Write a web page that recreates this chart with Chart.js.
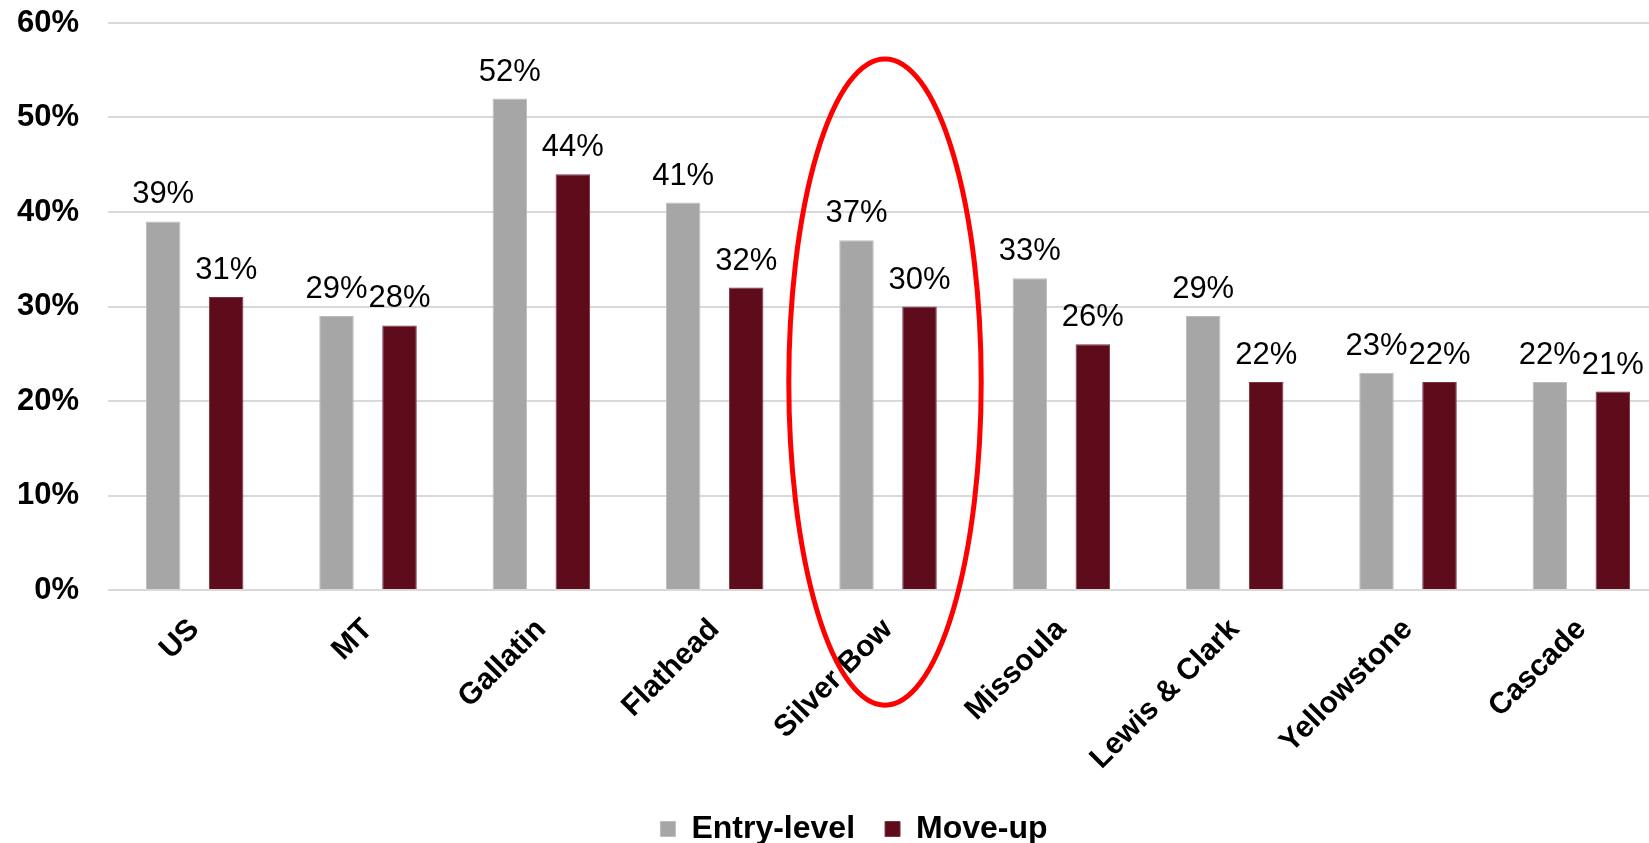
<!DOCTYPE html>
<html>
<head>
<meta charset="utf-8">
<script src="https://cdn.jsdelivr.net/npm/chart.js@4.4.1/dist/chart.umd.min.js"></script>
<style>
  body { margin: 0; background: #fff; overflow: hidden; }
  #wrap { position: relative; width: 1694px; height: 843px; }
</style>
</head>
<body>
<div id="wrap"><canvas id="myChart"></canvas></div>
<script>
const categories = ['US', 'MT', 'Gallatin', 'Flathead', 'Silver Bow', 'Missoula', 'Lewis & Clark', 'Yellowstone', 'Cascade'];
const entryLevel = [39, 29, 52, 41, 37, 33, 29, 23, 22];
const moveUp = [31, 28, 44, 32, 30, 26, 22, 22, 21];
const yMax = 60;
const yStep = 10;

// red ring drawn round one category
const highlightCategory = 'Silver Bow';
const highlightTop = 56.2;
const highlightBottom = -12.2;

const fontFamily = '"Liberation Sans", Arial, sans-serif';

const barLabels = {
    id: 'barLabels',
    afterDatasetsDraw(chart) {
        const ctx = chart.ctx;
        ctx.save();
        ctx.font = '31px ' + fontFamily;
        ctx.fillStyle = '#000';
        ctx.textAlign = 'center';
        ctx.textBaseline = 'alphabetic';
        chart.data.datasets.forEach((ds, i) => {
            chart.getDatasetMeta(i).data.forEach((bar, j) => {
                ctx.fillText(ds.data[j] + '%', bar.x, bar.y - 18);
            });
        });
        ctx.restore();
    }
};

const ring = {
    id: 'ring',
    afterDraw(chart) {
        const x = chart.scales.x;
        const y = chart.scales.y;
        const idx = categories.indexOf(highlightCategory);
        const catW = x.getPixelForValue(1) - x.getPixelForValue(0);
        const cx = x.getPixelForValue(idx) - 3;
        const top = y.getPixelForValue(highlightTop);
        const bottom = y.getPixelForValue(highlightBottom);
        const ctx = chart.ctx;
        ctx.save();
        ctx.strokeStyle = '#ff0000';
        ctx.lineWidth = 5;
        ctx.beginPath();
        ctx.ellipse(cx, (top + bottom) / 2, catW * 0.555, (bottom - top) / 2, 0, 0, Math.PI * 2);
        ctx.stroke();
        ctx.restore();
    }
};

const data = {
    labels: categories,
    datasets: [
        {
            label: 'Entry-level',
            data: entryLevel,
            backgroundColor: '#a6a6a6',
            borderColor: '#bdbdbd',
            borderWidth: 1,
            barPercentage: 0.548,
            categoryPercentage: 0.727
        },
        {
            label: 'Move-up',
            data: moveUp,
            backgroundColor: '#5e0b1c',
            borderColor: '#7a3442',
            borderWidth: 1,
            barPercentage: 0.548,
            categoryPercentage: 0.727
        }
    ]
};

const config = {
    type: 'bar',
    data: data,
    plugins: [barLabels, ring],
    options: {
        responsive: true,
        maintainAspectRatio: false,
        animation: false,
        layout: { padding: { left: 14, top: 23, right: 0, bottom: 0 } },
        plugins: {
            tooltip: { enabled: false },
            legend: {
                position: 'bottom',
                maxHeight: 60,
                labels: {
                    color: '#000',
                    boxWidth: 15,
                    boxHeight: 15,
                    padding: 30,
                    font: { family: fontFamily, size: 32, weight: 'bold' }
                }
            }
        },
        scales: {
            x: {
                afterFit: (scale) => {
                    scale.height = 193;
                    scale.paddingLeft = 0;
                    scale.paddingRight = 0;
                },
                grid: { display: false },
                border: { display: false },
                ticks: {
                    color: '#000',
                    autoSkip: false,
                    minRotation: 45,
                    maxRotation: 45,
                    padding: 14,
                    font: { family: fontFamily, size: 30, weight: 'bold' }
                }
            },
            y: {
                min: 0,
                max: yMax,
                afterFit: (scale) => {
                    scale.width = 94;
                    scale.paddingTop = 0;
                    scale.paddingBottom = 0;
                },
                grid: { color: '#d9d9d9', lineWidth: 2, drawTicks: false },
                border: { display: false },
                ticks: {
                    stepSize: yStep,
                    color: '#000',
                    padding: 29,
                    callback: v => v + '%',
                    font: { family: fontFamily, size: 31, weight: 'bold' }
                }
            },
            // empty strip on the right, keeps the plot edge off the legend centre
            yRight: {
                position: 'right',
                min: 0,
                max: 1,
                afterFit: (scale) => { scale.width = 26; },
                grid: { display: false },
                border: { display: false },
                ticks: { display: false }
            }
        }
    }
};

let myChart = new Chart(document.getElementById('myChart'), config);
</script>
</body>
</html>
